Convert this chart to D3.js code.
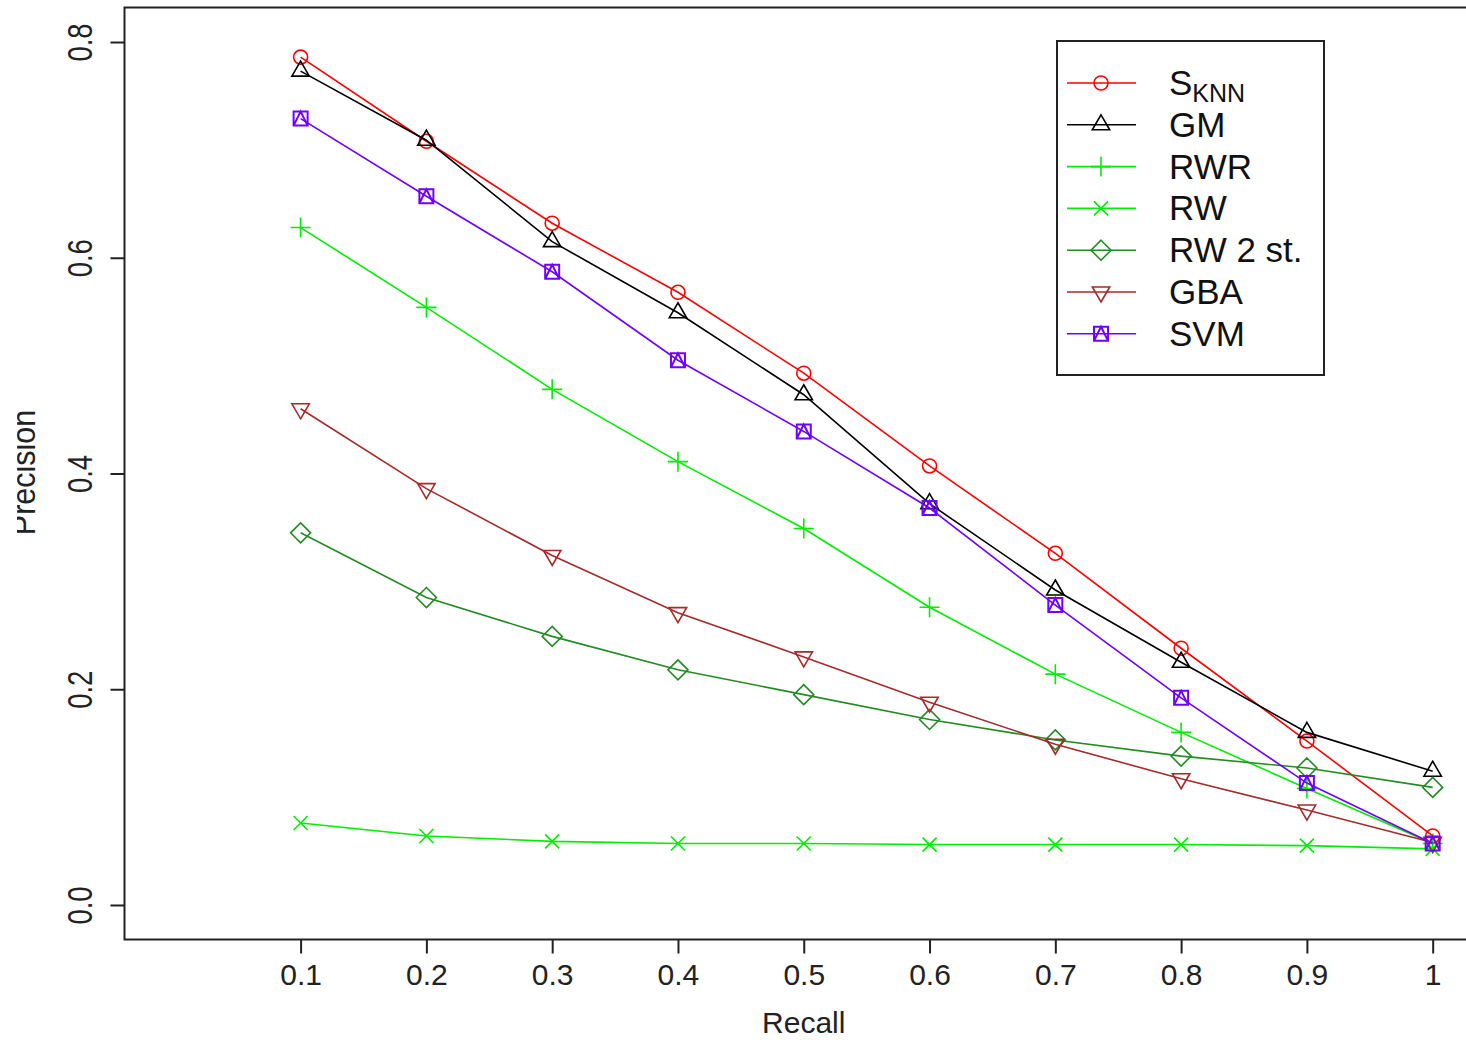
<!DOCTYPE html>
<html>
<head>
<meta charset="utf-8">
<script src="https://cdn.jsdelivr.net/npm/d3@7"></script>
<style>
  body { margin: 0; background: #fff; }
  svg { display: block; font-family: "Liberation Sans", Arial, sans-serif; }
</style>
</head>
<body>
<div id="chart"></div>
<script>
const recall = [0.1, 0.2, 0.3, 0.4, 0.5, 0.6, 0.7, 0.8, 0.9, 1];
const xTicks = [0.1, 0.2, 0.3, 0.4, 0.5, 0.6, 0.7, 0.8, 0.9, 1];
const yTicks = [0.0, 0.2, 0.4, 0.6, 0.8];

const sknn = [0.786, 0.708, 0.632, 0.568, 0.493, 0.407, 0.326, 0.238, 0.152, 0.064];
const gm   = [0.773, 0.709, 0.615, 0.549, 0.473, 0.372, 0.292, 0.225, 0.160, 0.124];
const rwr  = [0.628, 0.554, 0.478, 0.411, 0.349, 0.276, 0.214, 0.160, 0.108, 0.057];
const rw   = [0.076, 0.064, 0.059, 0.057, 0.057, 0.056, 0.056, 0.056, 0.055, 0.052];
const rw2  = [0.345, 0.285, 0.249, 0.218, 0.195, 0.172, 0.153, 0.138, 0.127, 0.109];
const gba  = [0.460, 0.386, 0.324, 0.271, 0.230, 0.188, 0.149, 0.117, 0.088, 0.058];
const svm  = [0.729, 0.657, 0.587, 0.505, 0.439, 0.368, 0.278, 0.192, 0.113, 0.057];

const seriesNames = ["SKNN", "GM", "RWR", "RW", "RW 2 st.", "GBA", "SVM"];
const seriesValues = [sknn, gm, rwr, rw, rw2, gba, svm];
const seriesColors = ["#ff0000", "#000000", "#00ee00", "#00ee00", "#238b23", "#a52a2a", "#7000ff"];
const seriesShapes = ["circle", "triUp", "plus", "times", "diamond", "triDown", "boxTri"];

const W = 1466, H = 1040;
const plotL = 124.5, plotT = 7.5, plotB = 939.5, plotR = 1483;

const x = d3.scaleLinear().domain([-0.04, 1.04]).range([plotL, plotR]);
const y = d3.scaleLinear().domain([-0.032, 0.832]).range([plotB, plotT]);

const svg = d3.select("#chart").append("svg")
    .attr("width", W)
    .attr("height", H);

// R style marker paths
function shapePath(shape) {
    switch (shape) {
        case "circle":
            return "M7,0A7,7 0 1,1 -7,0A7,7 0 1,1 7,0Z";
        case "triUp":
            return "M0,-10L8.7,5L-8.7,5Z";
        case "triDown":
            return "M0,10L8.7,-5L-8.7,-5Z";
        case "plus":
            return "M-10,0L10,0M0,-10L0,10";
        case "times":
            return "M-7,-7L7,7M-7,7L7,-7";
        case "diamond":
            return "M0,-10L10,0L0,10L-10,0Z";
        case "boxTri":
            return "M-7,-7L7,-7L7,7L-7,7ZM-7,7L0,-7L7,7";
    }
}

const line = d3.line()
    .x((d, i) => x(recall[i]))
    .y(d => y(d));

seriesValues.forEach((vals, s) => {
    const col = seriesColors[s];
    const g = svg.append("g");
    g.append("path")
        .attr("d", line(vals))
        .attr("fill", "none")
        .attr("stroke", col)
        .attr("stroke-width", 1.6);
    g.selectAll("path.pt")
        .data(vals)
        .enter()
        .append("path")
        .attr("class", "pt")
        .attr("transform", (d, i) => `translate(${x(recall[i])},${y(d)})`)
        .attr("d", shapePath(seriesShapes[s]))
        .attr("fill", "none")
        .attr("stroke", col)
        .attr("stroke-width", seriesShapes[s] === "boxTri" ? 2 : 1.6);
});

// frame (right edge falls outside the picture)
svg.append("rect")
    .attr("x", plotL)
    .attr("y", plotT)
    .attr("width", plotR - plotL)
    .attr("height", plotB - plotT)
    .attr("fill", "none")
    .attr("stroke", "#222")
    .attr("stroke-width", 2);

// x axis
const xAxis = svg.append("g")
    .attr("transform", `translate(0,${plotB})`)
    .call(d3.axisBottom(x)
        .tickValues(xTicks)
        .tickSize(14)
        .tickFormat(d => d === 1 ? "1" : d3.format(".1f")(d)));
xAxis.select(".domain").remove();
xAxis.selectAll("line").attr("stroke", "#222").attr("stroke-width", 2);
xAxis.selectAll("text")
    .attr("font-size", 30)
    .attr("font-family", "Liberation Sans, Arial, sans-serif")
    .attr("fill", "#222")
    .attr("y", 45.5)
    .attr("dy", null);

// y axis, labels rotated like R's default
const yAxis = svg.append("g")
    .attr("transform", `translate(${plotL},0)`)
    .call(d3.axisLeft(y)
        .tickValues(yTicks)
        .tickSize(14)
        .tickFormat(d3.format(".1f")));
yAxis.select(".domain").remove();
yAxis.selectAll("line").attr("stroke", "#222").attr("stroke-width", 2);
yAxis.selectAll("text")
    .attr("font-size", 27.5)
    .attr("font-family", "Liberation Sans, Arial, sans-serif")
    .attr("fill", "#222")
    .attr("x", null)
    .attr("dy", null)
    .attr("text-anchor", "middle")
    .attr("transform", `translate(${92 - plotL},0) scale(1.25,1) rotate(-90)`);

svg.append("text")
    .attr("x", x(0.5))
    .attr("y", 1033)
    .attr("text-anchor", "middle")
    .attr("font-size", 30)
    .attr("fill", "#222")
    .text("Recall");

// y title is clipped at the left in the original
svg.append("clipPath")
    .attr("id", "ytitle-clip")
    .append("rect")
    .attr("x", 17).attr("y", 0)
    .attr("width", 100).attr("height", H);

svg.append("g")
    .attr("clip-path", "url(#ytitle-clip)")
    .append("text")
    .attr("transform", `translate(35,472.5) scale(1.08,1) rotate(-90)`)
    .attr("text-anchor", "middle")
    .attr("font-size", 30.5)
    .attr("fill", "#222")
    .text("Precision");

// legend
const legX = 1057, legY = 41, legW = 267, legH = 334;
const legend = svg.append("g");
legend.append("rect")
    .attr("x", legX)
    .attr("y", legY)
    .attr("width", legW)
    .attr("height", legH)
    .attr("fill", "#fff")
    .attr("stroke", "#222")
    .attr("stroke-width", 2);

seriesNames.forEach((name, s) => {
    const ry = 83 + s * 41.8;
    const col = seriesColors[s];
    legend.append("line")
        .attr("x1", 1067).attr("x2", 1136)
        .attr("y1", ry).attr("y2", ry)
        .attr("stroke", col)
        .attr("stroke-width", 1.6);
    legend.append("path")
        .attr("transform", `translate(1101,${ry})`)
        .attr("d", shapePath(seriesShapes[s]))
        .attr("fill", "none")
        .attr("stroke", col)
        .attr("stroke-width", seriesShapes[s] === "boxTri" ? 2 : 1.6);
    const t = legend.append("text")
        .attr("x", 1169)
        .attr("y", ry + 12)
        .attr("font-size", 35)
        .attr("fill", "#111");
    if (name === "SKNN") {
        t.append("tspan").text("S");
        t.append("tspan").attr("font-size", 25).attr("dy", 7).text("KNN");
    } else {
        t.text(name);
    }
});
</script>
</body>
</html>
